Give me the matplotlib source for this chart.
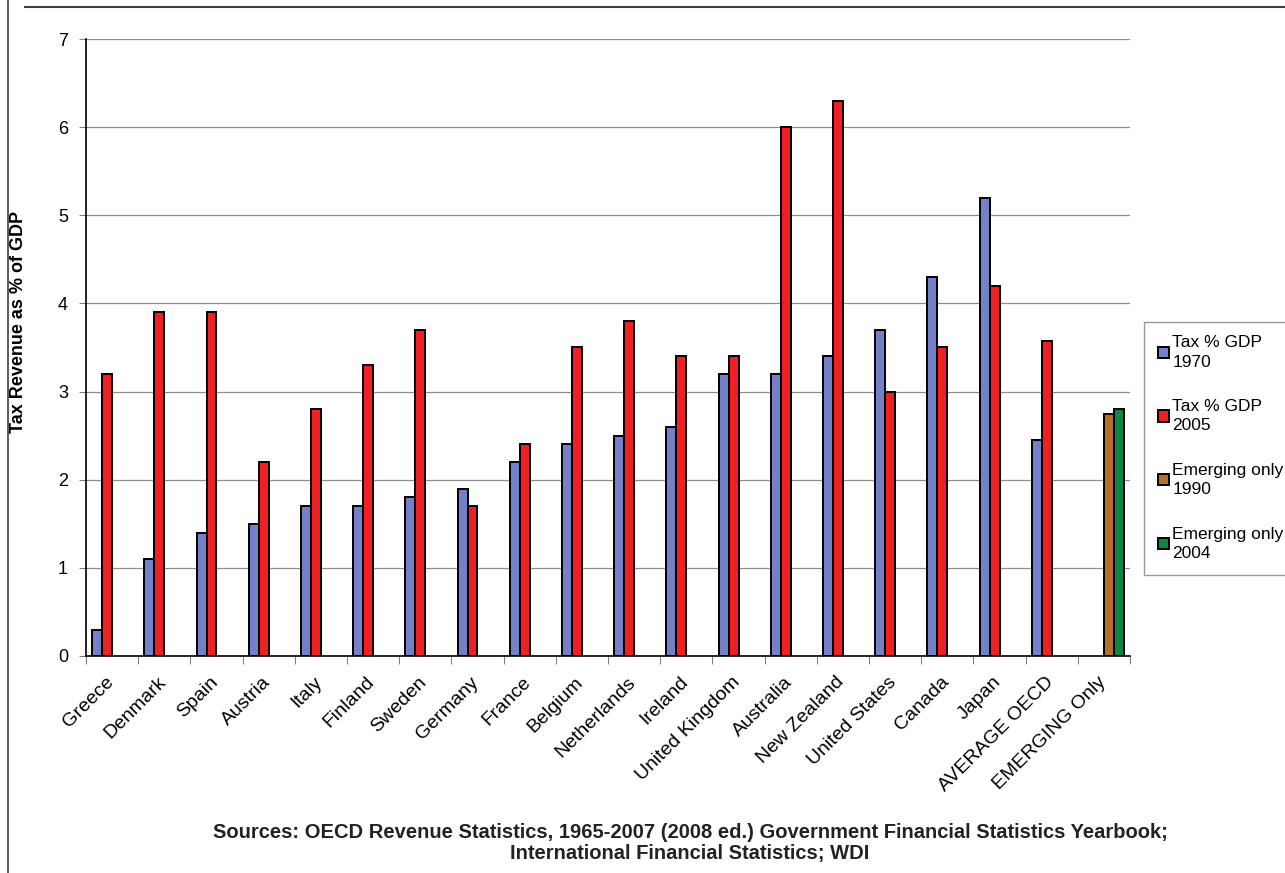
import numpy as np
import matplotlib
matplotlib.use('Agg')
import matplotlib.pyplot as plt
from matplotlib.lines import Line2D

plt.rcParams['font.family'] = ['Liberation Sans', 'DejaVu Sans']

# Data
countries = ['Greece', 'Denmark', 'Spain', 'Austria', 'Italy', 'Finland', 'Sweden',
             'Germany', 'France', 'Belgium', 'Netherlands', 'Ireland', 'United Kingdom',
             'Australia', 'New Zealand', 'United States', 'Canada', 'Japan',
             'AVERAGE OECD', 'EMERGING Only']
tax_1970 = [0.3, 1.1, 1.4, 1.5, 1.7, 1.7, 1.8, 1.9, 2.2, 2.4, 2.5, 2.6, 3.2,
            3.2, 3.4, 3.7, 4.3, 5.2, 2.45, np.nan]
tax_2005 = [3.2, 3.9, 3.9, 2.2, 2.8, 3.3, 3.7, 1.7, 2.4, 3.5, 3.8, 3.4, 3.4,
            6.0, 6.3, 3.0, 3.5, 4.2, 3.57, np.nan]
emerging_1990 = [np.nan] * 19 + [2.75]
emerging_2004 = [np.nan] * 19 + [2.8]

series = [('Tax % GDP\n1970', tax_1970, '#7480c8'),
          ('Tax % GDP\n2005', tax_2005, '#ee2024'),
          ('Emerging only\n1990', emerging_1990, '#b4702a'),
          ('Emerging only\n2004', emerging_2004, '#0f8645')]

fig = plt.figure(figsize=(12.85, 8.73), dpi=100)
ax = fig.add_axes([0.0669, 0.2486, 0.8125, 0.7067])

x = np.arange(len(countries))
w = 0.19
for i, (label, vals, color) in enumerate(series):
    ax.bar(x + (i - 2) * w + w / 2, vals, width=w, color=color,
           edgecolor='black', linewidth=1.4, label=label, zorder=3)

ax.set_xlim(-0.5, len(countries) - 0.5)
ax.set_ylim(0, 7)
ax.set_yticks(range(0, 8))
ax.yaxis.grid(True, color='#8c8c8c', linewidth=0.9, zorder=0)
ax.set_axisbelow(True)
for s in ['top', 'right']:
    ax.spines[s].set_visible(False)
ax.spines['left'].set_linewidth(1.2)
ax.spines['bottom'].set_linewidth(1.2)

ax.set_xticks(np.arange(-0.5, len(countries)), minor=False)
ax.set_xticklabels([])
ax.set_xticks(x - 0.02, minor=True)
ax.set_xticklabels(countries, minor=True, rotation=45, ha='right', va='center',
                   rotation_mode='anchor', fontsize=14)
ax.tick_params(axis='x', which='minor', length=0, pad=17)
ax.tick_params(axis='x', which='major', length=6, direction='out', color='#808080')
ax.tick_params(axis='y', labelsize=13, length=5, color='#808080', pad=8)

ax.set_ylabel('Tax Revenue as % of GDP', fontsize=13, fontweight='bold')
ax.yaxis.set_label_coords(-0.0565, 0.541)

leg = ax.legend(loc='center left', bbox_to_anchor=(1.0134, 0.337), frameon=True,
                fancybox=False, edgecolor='#808080', fontsize=12.5, handlelength=0.62,
                handleheight=0.62, handletextpad=0.2, labelspacing=1.7, borderpad=0.8,
                borderaxespad=0)
for t in leg.get_texts():
    t.set_linespacing(1.35)

fig.text(0.537, 1 - 843 / 873,
         'Sources: OECD Revenue Statistics, 1965-2007 (2008 ed.) Government Financial Statistics Yearbook;\n'
         'International Financial Statistics; WDI', ha='center', va='center',
         fontsize=14.5, fontweight='bold', linespacing=1.2, color='#222222')

# frame lines around the figure
fig.add_artist(Line2D([25 / 1285, 1.0], [1 - 7 / 873, 1 - 7 / 873], color='#404040', linewidth=1.5))
fig.add_artist(Line2D([8 / 1285, 8 / 1285], [1.0, 0.0], color='#404040', linewidth=1.2))

fig.savefig('out.png', dpi=100)
